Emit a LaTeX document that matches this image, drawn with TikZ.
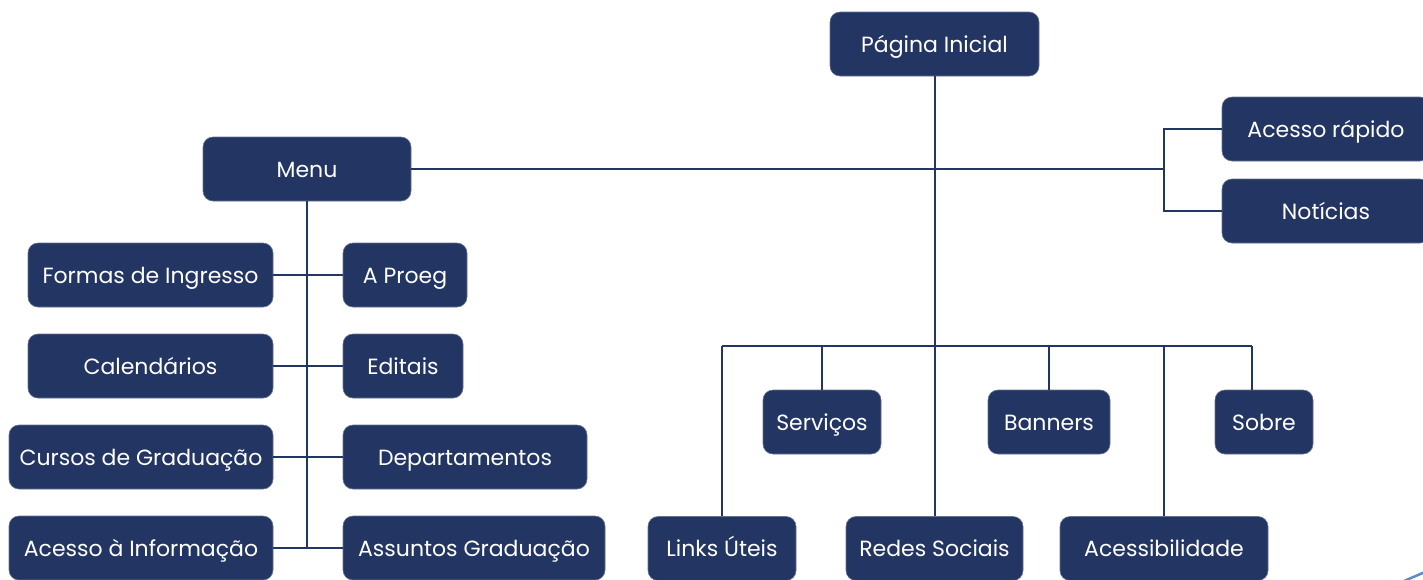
\documentclass[tikz,border=0pt]{standalone}
\usepackage{fontspec}
\setmainfont{Poppins}
\definecolor{navy}{HTML}{233563}
\definecolor{lightblue}{HTML}{5B8AC6}
\begin{document}
\begin{tikzpicture}[x=1pt,y=-1pt,
  box/.style={fill=navy, draw=navy!70!white, line width=0.6pt, rounded corners=10pt, text=white,
    minimum height=64pt, inner sep=0pt, text height=16pt, text depth=0pt,
    font=\fontsize{22}{26}\selectfont},
  conn/.style={draw=navy, line width=2pt}]
\useasboundingbox (0,0) rectangle (1423,579);
% top
\node[box, minimum width=209pt] (pi) at (934.5,44) {Página Inicial};
\node[box, minimum width=208pt] (menu) at (307,169) {Menu};
\node[box, minimum width=208pt] (ar) at (1326,129) {Acesso rápido};
\node[box, minimum width=208pt] (nt) at (1326,211) {Notícias};
% left column
\node[box, minimum width=245pt] (fi) at (150.5,275) {Formas de Ingresso};
\node[box, minimum width=124pt] (ap) at (405,275) {A Proeg};
\node[box, minimum width=245pt] (ca) at (150.5,366) {Calendários};
\node[box, minimum width=120pt] (ed) at (403,366) {Editais};
\node[box, minimum width=264pt] (cg) at (141,457) {Cursos de Graduação};
\node[box, minimum width=244pt] (dp) at (465,457) {Departamentos};
\node[box, minimum width=264pt] (ai) at (141,548) {Acesso à Informação};
\node[box, minimum width=262pt] (ag) at (474,548) {Assuntos Graduação};
% right tree
\node[box, minimum width=118pt] (sv) at (822,422) {Serviços};
\node[box, minimum width=122pt] (bn) at (1049,422) {Banners};
\node[box, minimum width=98pt] (so) at (1264,422) {Sobre};
\node[box, minimum width=148pt] (lu) at (722,548.5) {Links Úteis};
\node[box, minimum width=177pt] (rs) at (934.5,548.5) {Redes Sociais};
\node[box, minimum width=208pt] (ac) at (1164,548.5) {Acessibilidade};
% connectors
\coordinate (j1) at (1164,169);
\coordinate (busL) at (722,346);
\coordinate (busR) at (1252,346);
\draw[conn] (pi.south) -- (rs.north);
\draw[conn] (menu.east) -- (j1);
\draw[conn] (ar.west) -| (j1);
\draw[conn] (nt.west) -| (j1);
\draw[conn] (menu.south) -- (menu.south |- ai.center);
\draw[conn] (fi.east) -- (ap.west);
\draw[conn] (ca.east) -- (ed.west);
\draw[conn] (cg.east) -- (dp.west);
\draw[conn] (ai.east) -- (ag.west);
\draw[conn] (busL) -- (busR);
\draw[conn] (busL) -- (lu.north);
\draw[conn] (sv.north) -- (sv.north |- busL);
\draw[conn] (bn.north) -- (bn.north |- busL);
\draw[conn] (ac.north) -- (ac.north |- busL);
\draw[conn] (busR) -- (busR |- so.north);
\draw[lightblue, line width=2.5pt] (1404,581) -- (1425,572);
\end{tikzpicture}
\end{document}
